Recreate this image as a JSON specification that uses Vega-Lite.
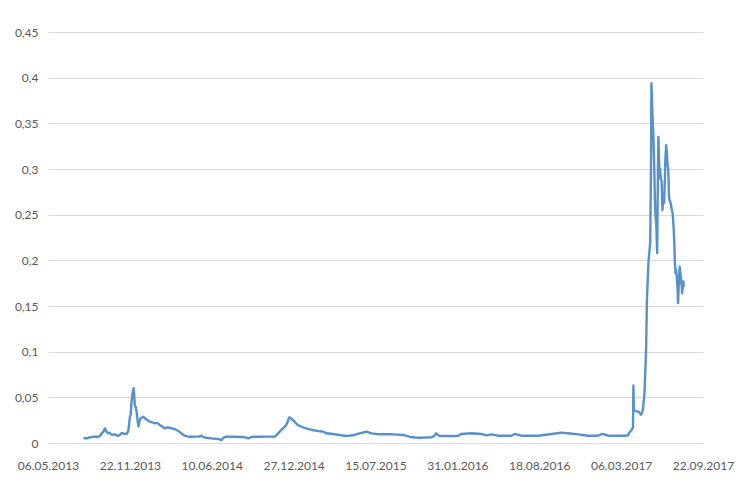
{
  "$schema": "https://vega.github.io/schema/vega-lite/v6.json",
  "autosize": {"type": "none"},
  "width": 655,
  "height": 411,
  "padding": {"left": 48, "top": 32, "right": 47, "bottom": 57},
  "background": "#ffffff",
  "config": {"view": {"stroke": null}},
  "data": {"values": [
    {"date": "2013-08-01", "value": 0.0055},
    {"date": "2013-08-08", "value": 0.0050},
    {"date": "2013-08-16", "value": 0.0062},
    {"date": "2013-08-25", "value": 0.0068},
    {"date": "2013-09-05", "value": 0.0068},
    {"date": "2013-09-10", "value": 0.0075},
    {"date": "2013-09-14", "value": 0.0106},
    {"date": "2013-09-18", "value": 0.0120},
    {"date": "2013-09-22", "value": 0.0160},
    {"date": "2013-09-26", "value": 0.0125},
    {"date": "2013-09-30", "value": 0.0106},
    {"date": "2013-10-04", "value": 0.0110},
    {"date": "2013-10-08", "value": 0.0090},
    {"date": "2013-10-15", "value": 0.0095},
    {"date": "2013-10-20", "value": 0.0085},
    {"date": "2013-10-25", "value": 0.0078},
    {"date": "2013-10-29", "value": 0.0090},
    {"date": "2013-11-02", "value": 0.0110},
    {"date": "2013-11-08", "value": 0.0100},
    {"date": "2013-11-14", "value": 0.0100},
    {"date": "2013-11-18", "value": 0.0130},
    {"date": "2013-11-20", "value": 0.0197},
    {"date": "2013-11-22", "value": 0.0290},
    {"date": "2013-11-24", "value": 0.0307},
    {"date": "2013-11-26", "value": 0.0450},
    {"date": "2013-11-28", "value": 0.0526},
    {"date": "2013-12-01", "value": 0.0600},
    {"date": "2013-12-02", "value": 0.0560},
    {"date": "2013-12-04", "value": 0.0416},
    {"date": "2013-12-07", "value": 0.0380},
    {"date": "2013-12-09", "value": 0.0320},
    {"date": "2013-12-11", "value": 0.0240},
    {"date": "2013-12-13", "value": 0.0180},
    {"date": "2013-12-15", "value": 0.0230},
    {"date": "2013-12-18", "value": 0.0270},
    {"date": "2013-12-22", "value": 0.0280},
    {"date": "2013-12-25", "value": 0.0288},
    {"date": "2013-12-30", "value": 0.0265},
    {"date": "2014-01-04", "value": 0.0250},
    {"date": "2014-01-10", "value": 0.0233},
    {"date": "2014-01-16", "value": 0.0225},
    {"date": "2014-01-22", "value": 0.0215},
    {"date": "2014-01-28", "value": 0.0220},
    {"date": "2014-02-03", "value": 0.0197},
    {"date": "2014-02-09", "value": 0.0180},
    {"date": "2014-02-15", "value": 0.0160},
    {"date": "2014-02-21", "value": 0.0170},
    {"date": "2014-02-27", "value": 0.0167},
    {"date": "2014-03-05", "value": 0.0160},
    {"date": "2014-03-11", "value": 0.0153},
    {"date": "2014-03-17", "value": 0.0140},
    {"date": "2014-03-23", "value": 0.0124},
    {"date": "2014-03-29", "value": 0.0100},
    {"date": "2014-04-05", "value": 0.0080},
    {"date": "2014-04-11", "value": 0.0072},
    {"date": "2014-04-17", "value": 0.0069},
    {"date": "2014-04-30", "value": 0.0070},
    {"date": "2014-05-10", "value": 0.0070},
    {"date": "2014-05-16", "value": 0.0080},
    {"date": "2014-05-20", "value": 0.0065},
    {"date": "2014-05-28", "value": 0.0058},
    {"date": "2014-06-10", "value": 0.0050},
    {"date": "2014-06-25", "value": 0.0045},
    {"date": "2014-07-04", "value": 0.0033},
    {"date": "2014-07-08", "value": 0.0055},
    {"date": "2014-07-16", "value": 0.0069},
    {"date": "2014-08-01", "value": 0.0068},
    {"date": "2014-08-22", "value": 0.0066},
    {"date": "2014-09-01", "value": 0.0062},
    {"date": "2014-09-07", "value": 0.0051},
    {"date": "2014-09-15", "value": 0.0065},
    {"date": "2014-09-24", "value": 0.0069},
    {"date": "2014-10-06", "value": 0.0069},
    {"date": "2014-10-18", "value": 0.0070},
    {"date": "2014-11-01", "value": 0.0070},
    {"date": "2014-11-11", "value": 0.0069},
    {"date": "2014-11-17", "value": 0.0095},
    {"date": "2014-11-23", "value": 0.0124},
    {"date": "2014-12-01", "value": 0.0160},
    {"date": "2014-12-09", "value": 0.0197},
    {"date": "2014-12-13", "value": 0.0240},
    {"date": "2014-12-16", "value": 0.0280},
    {"date": "2014-12-21", "value": 0.0270},
    {"date": "2014-12-29", "value": 0.0234},
    {"date": "2015-01-06", "value": 0.0197},
    {"date": "2015-01-12", "value": 0.0185},
    {"date": "2015-01-19", "value": 0.0172},
    {"date": "2015-01-27", "value": 0.0160},
    {"date": "2015-02-04", "value": 0.0150},
    {"date": "2015-02-12", "value": 0.0140},
    {"date": "2015-02-20", "value": 0.0135},
    {"date": "2015-03-01", "value": 0.0128},
    {"date": "2015-03-09", "value": 0.0124},
    {"date": "2015-03-17", "value": 0.0106},
    {"date": "2015-04-02", "value": 0.0099},
    {"date": "2015-04-18", "value": 0.0088},
    {"date": "2015-05-05", "value": 0.0077},
    {"date": "2015-05-15", "value": 0.0082},
    {"date": "2015-05-25", "value": 0.0088},
    {"date": "2015-06-06", "value": 0.0106},
    {"date": "2015-06-15", "value": 0.0115},
    {"date": "2015-06-23", "value": 0.0124},
    {"date": "2015-07-05", "value": 0.0106},
    {"date": "2015-07-25", "value": 0.0095},
    {"date": "2015-08-10", "value": 0.0095},
    {"date": "2015-08-27", "value": 0.0095},
    {"date": "2015-09-20", "value": 0.0088},
    {"date": "2015-10-06", "value": 0.0069},
    {"date": "2015-10-20", "value": 0.0060},
    {"date": "2015-10-31", "value": 0.0058},
    {"date": "2015-11-15", "value": 0.0060},
    {"date": "2015-11-28", "value": 0.0062},
    {"date": "2015-12-05", "value": 0.0075},
    {"date": "2015-12-10", "value": 0.0106},
    {"date": "2015-12-14", "value": 0.0090},
    {"date": "2015-12-19", "value": 0.0077},
    {"date": "2016-01-12", "value": 0.0077},
    {"date": "2016-02-01", "value": 0.0077},
    {"date": "2016-02-09", "value": 0.0099},
    {"date": "2016-03-05", "value": 0.0106},
    {"date": "2016-03-29", "value": 0.0099},
    {"date": "2016-04-11", "value": 0.0084},
    {"date": "2016-04-23", "value": 0.0095},
    {"date": "2016-05-09", "value": 0.0080},
    {"date": "2016-06-11", "value": 0.0080},
    {"date": "2016-06-19", "value": 0.0099},
    {"date": "2016-07-05", "value": 0.0080},
    {"date": "2016-08-15", "value": 0.0080},
    {"date": "2016-09-17", "value": 0.0099},
    {"date": "2016-10-11", "value": 0.0113},
    {"date": "2016-10-27", "value": 0.0106},
    {"date": "2016-11-21", "value": 0.0095},
    {"date": "2016-12-15", "value": 0.0080},
    {"date": "2017-01-08", "value": 0.0080},
    {"date": "2017-01-20", "value": 0.0099},
    {"date": "2017-02-02", "value": 0.0080},
    {"date": "2017-03-15", "value": 0.0080},
    {"date": "2017-03-23", "value": 0.0085},
    {"date": "2017-03-26", "value": 0.0115},
    {"date": "2017-03-31", "value": 0.0140},
    {"date": "2017-04-04", "value": 0.0170},
    {"date": "2017-04-05", "value": 0.0630},
    {"date": "2017-04-06", "value": 0.0360},
    {"date": "2017-04-11", "value": 0.0350},
    {"date": "2017-04-18", "value": 0.0340},
    {"date": "2017-04-24", "value": 0.0310},
    {"date": "2017-04-28", "value": 0.0360},
    {"date": "2017-05-02", "value": 0.0540},
    {"date": "2017-05-06", "value": 0.1020},
    {"date": "2017-05-08", "value": 0.1570},
    {"date": "2017-05-12", "value": 0.2000},
    {"date": "2017-05-16", "value": 0.2190},
    {"date": "2017-05-18", "value": 0.3000},
    {"date": "2017-05-19", "value": 0.3940},
    {"date": "2017-05-22", "value": 0.3540},
    {"date": "2017-05-24", "value": 0.3350},
    {"date": "2017-05-26", "value": 0.3000},
    {"date": "2017-05-28", "value": 0.2560},
    {"date": "2017-05-31", "value": 0.2380},
    {"date": "2017-06-02", "value": 0.2080},
    {"date": "2017-06-04", "value": 0.3000},
    {"date": "2017-06-05", "value": 0.3350},
    {"date": "2017-06-08", "value": 0.2900},
    {"date": "2017-06-09", "value": 0.3000},
    {"date": "2017-06-11", "value": 0.2900},
    {"date": "2017-06-13", "value": 0.2860},
    {"date": "2017-06-15", "value": 0.2550},
    {"date": "2017-06-17", "value": 0.2700},
    {"date": "2017-06-19", "value": 0.2630},
    {"date": "2017-06-21", "value": 0.2900},
    {"date": "2017-06-22", "value": 0.3100},
    {"date": "2017-06-24", "value": 0.3260},
    {"date": "2017-06-26", "value": 0.3170},
    {"date": "2017-06-27", "value": 0.3060},
    {"date": "2017-06-29", "value": 0.3000},
    {"date": "2017-07-01", "value": 0.2700},
    {"date": "2017-07-02", "value": 0.2660},
    {"date": "2017-07-05", "value": 0.2630},
    {"date": "2017-07-07", "value": 0.2570},
    {"date": "2017-07-10", "value": 0.2510},
    {"date": "2017-07-12", "value": 0.2370},
    {"date": "2017-07-14", "value": 0.2190},
    {"date": "2017-07-15", "value": 0.2000},
    {"date": "2017-07-17", "value": 0.1860},
    {"date": "2017-07-18", "value": 0.1900},
    {"date": "2017-07-20", "value": 0.1820},
    {"date": "2017-07-22", "value": 0.1680},
    {"date": "2017-07-23", "value": 0.1530},
    {"date": "2017-07-25", "value": 0.1750},
    {"date": "2017-07-27", "value": 0.1930},
    {"date": "2017-07-30", "value": 0.1820},
    {"date": "2017-08-01", "value": 0.1710},
    {"date": "2017-08-02", "value": 0.1640},
    {"date": "2017-08-05", "value": 0.1770},
    {"date": "2017-08-06", "value": 0.1710}
  ]},
  "mark": {"type": "line", "color": "#5791cc", "strokeWidth": 2.4, "strokeJoin": "round"},
  "encoding": {
    "x": {
      "field": "date",
      "type": "temporal",
      "scale": {
        "type": "utc",
        "domain": [
          {"year": 2013, "month": 5, "date": 6, "utc": true},
          {"year": 2017, "month": 9, "date": 22, "utc": true}
        ]
      },
      "axis": {
        "title": null,
        "values": [
          {"year": 2013, "month": 5, "date": 6, "utc": true},
          {"year": 2013, "month": 11, "date": 22, "utc": true},
          {"year": 2014, "month": 6, "date": 10, "utc": true},
          {"year": 2014, "month": 12, "date": 27, "utc": true},
          {"year": 2015, "month": 7, "date": 15, "utc": true},
          {"year": 2016, "month": 1, "date": 31, "utc": true},
          {"year": 2016, "month": 8, "date": 18, "utc": true},
          {"year": 2017, "month": 3, "date": 6, "utc": true},
          {"year": 2017, "month": 9, "date": 22, "utc": true}
        ],
        "format": "%d.%m.%Y",
        "grid": false,
        "ticks": false,
        "domainColor": "#d9d9d9",
        "domainWidth": 1,
        "labelColor": "#595959",
        "labelFont": "Lato",
        "labelFontSize": 12,
        "labelPadding": 17,
        "labelFlush": false,
        "labelOverlap": false
      }
    },
    "y": {
      "field": "value",
      "type": "quantitative",
      "scale": {"domain": [0, 0.45], "nice": false, "zero": true},
      "axis": {
        "title": null,
        "values": [0, 0.05, 0.1, 0.15, 0.2, 0.25, 0.3, 0.35, 0.4, 0.45],
        "labelExpr": "replace(format(datum.value, '.2~f'), '.', ',')",
        "grid": true,
        "gridColor": "#d9d9d9",
        "gridWidth": 1,
        "domain": false,
        "ticks": false,
        "labelColor": "#595959",
        "labelFont": "Lato",
        "labelFontSize": 12,
        "labelPadding": 10
      }
    }
  }
}
